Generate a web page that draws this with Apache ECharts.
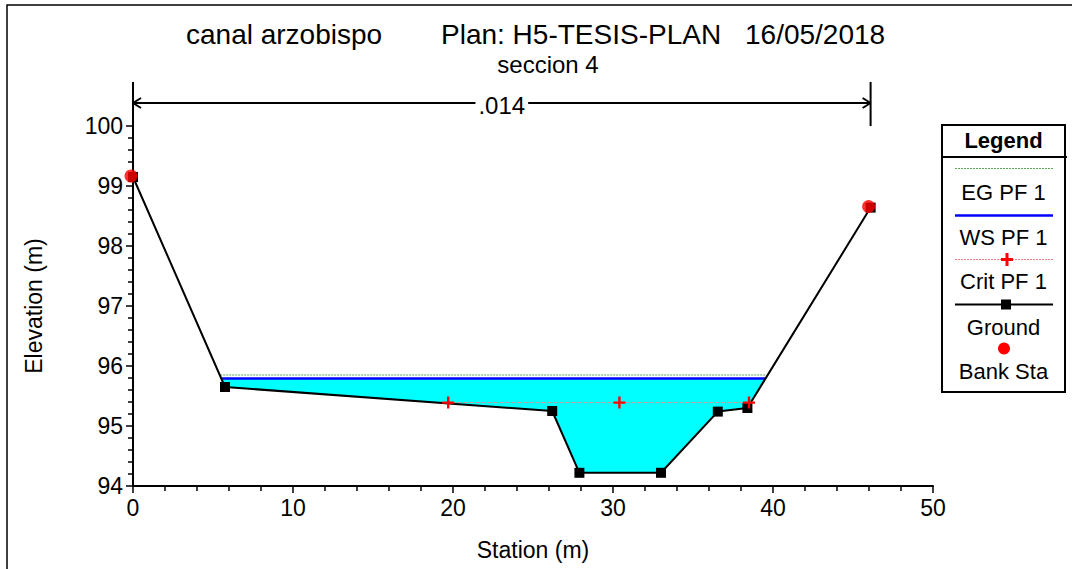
<!DOCTYPE html>
<html>
<head>
<meta charset="utf-8">
<title>canal arzobispo - seccion 4</title>
<script src="https://cdn.jsdelivr.net/npm/echarts@6/dist/echarts.min.js"></script>
<style>
  html, body { margin: 0; padding: 0; background: #ffffff; }
  #chart { width: 1072px; height: 569px; }
</style>
</head>
<body>
<div id="chart"></div>
<script>
// Cross-section geometry (station in m, elevation in m)
const groundStations = [0, 5.75, 26.2, 27.9, 33.0, 36.55, 38.4, 46.1];
const groundElev     = [99.15, 95.65, 95.25, 94.22, 94.22, 95.24, 95.30, 98.64];

// Bank stations
const bankStations = [0, 46.1];
const bankElev     = [99.15, 98.64];

// Profile PF 1 results
const egElev = 95.85;             // energy grade
const egLimits = [5.45, 39.57];
const wsElev = 95.79;             // water surface
const wsLimits = [5.52, 39.53];
const critElev = 95.39;           // critical depth
const critStations = [19.7, 30.4, 38.5];

// Manning's n over the section
const nValue = '.014';
const nLimits = [0, 46.1];

// Axis ticks
const xTicks = { min: 0, max: 50, interval: 10 };
const yTicks = { min: 94, max: 100, interval: 1 };

const FONT = '"Liberation Sans", Arial, sans-serif';

const chart = echarts.init(document.getElementById('chart'), null, { renderer: 'svg' });

const groundData = groundStations.map((s, i) => [s, groundElev[i]]);
const bankData = bankStations.map((s, i) => [s, bankElev[i]]);

// Wetted polygon: water surface on top, ground profile below it
function renderWater(params, api) {
  const pts = [api.coord([wsLimits[0], wsElev])];
  groundStations.forEach((s, i) => {
    if (s > wsLimits[0] && s < wsLimits[1]) pts.push(api.coord([s, groundElev[i]]));
  });
  pts.push(api.coord([wsLimits[1], wsElev]));
  return {
    type: 'polygon',
    shape: { points: pts },
    style: { fill: '#00ffff', stroke: null }
  };
}

// n-value bracket above the plot
function renderBracket(params, api) {
  const a = api.coord([nLimits[0], yTicks.max]);
  const b = api.coord([nLimits[1], yTicks.max]);
  const top = a[1] - 44, yArrow = a[1] - 23, ah = 8;
  const ls = { stroke: '#000', lineWidth: 2 };
  const line = (x1, y1, x2, y2) => ({ type: 'line', shape: { x1, y1, x2, y2 }, style: ls });
  return {
    type: 'group',
    children: [
      line(a[0], top, a[0], a[1]),
      line(b[0], top, b[0], a[1]),
      line(a[0], yArrow, b[0], yArrow),
      line(a[0], yArrow, a[0] + ah, yArrow - 5),
      line(a[0], yArrow, a[0] + ah, yArrow + 5),
      line(b[0], yArrow, b[0] - ah, yArrow - 5),
      line(b[0], yArrow, b[0] - ah, yArrow + 5),
      {
        type: 'text',
        x: (a[0] + b[0]) / 2, y: yArrow + 2,
        style: {
          text: nValue, font: '24px ' + FONT, fill: '#000',
          align: 'center', verticalAlign: 'middle',
          backgroundColor: '#fff', padding: [0, 3]
        }
      }
    ]
  };
}

// Legend box drawn at the right of the plot
const LX = 942, LW = 123, LCX = LX + LW / 2;
const legendText = (t, y, bold) => ({
  type: 'text', x: LCX, y: y,
  style: { text: t, font: (bold ? 'bold ' : '') + '22px ' + FONT, fill: '#000', align: 'center', verticalAlign: 'middle' }
});
const legendLine = (y, color, width, dash) => ({
  type: 'line', shape: { x1: 955, y1: y, x2: 1053, y2: y },
  style: { stroke: color, lineWidth: width, lineDash: dash || null }
});
const legendGraphics = [
  { type: 'rect', shape: { x: LX, y: 125, width: LW, height: 267 }, style: { fill: '#fff', stroke: '#000', lineWidth: 2 } },
  { type: 'line', shape: { x1: LX, y1: 157, x2: LX + LW + 2, y2: 157 }, style: { stroke: '#000', lineWidth: 2 } },
  legendText('Legend', 140, true),
  legendLine(168.5, '#58a858', 1, [2, 1]),
  legendText('EG PF 1', 192),
  legendLine(215.5, '#0000ff', 2.5),
  legendText('WS PF 1', 237),
  legendLine(259.5, '#e88080', 1, [2, 1]),
  { type: 'polygon', shape: { points: [[1005.5,253],[1008.5,253],[1008.5,258],[1013,258],[1013,261],[1008.5,261],[1008.5,266],[1005.5,266],[1005.5,261],[1001,261],[1001,258],[1005.5,258]] }, style: { fill: '#ff0000' } },
  legendText('Crit PF 1', 281),
  legendLine(304.5, '#000', 2),
  { type: 'rect', shape: { x: 1001, y: 299.5, width: 10, height: 10 }, style: { fill: '#000' } },
  legendText('Ground', 327),
  { type: 'circle', shape: { cx: 1004, cy: 348.5, r: 6 }, style: { fill: '#ff0000' } },
  legendText('Bank Sta', 371.5)
];

const crossPath = 'path://M4,0h2v4h4v2h-4v4h-2v-4h-4v-2h4z';

const axisCommon = {
  nameLocation: 'middle',
  nameTextStyle: { fontSize: 23, color: '#000', fontFamily: FONT },
  axisLine: { lineStyle: { color: '#000', width: 2 } },
  axisTick: { length: 7, lineStyle: { color: '#000', width: 1.5 } },
  minorTick: { show: true, splitNumber: 5, length: 5, lineStyle: { color: '#000', width: 1.5 } },
  splitLine: { show: false },
  axisLabel: { fontSize: 23, color: '#000', margin: 10, fontFamily: FONT }
};

const option = {
  backgroundColor: '#ffffff',
  animation: false,
  textStyle: { fontFamily: FONT },
  grid: { left: 133, right: 139, top: 126, bottom: 83, containLabel: false },
  xAxis: Object.assign({
    type: 'value',
    min: xTicks.min, max: xTicks.max, interval: xTicks.interval,
    name: 'Station (m)', nameGap: 52
  }, axisCommon),
  yAxis: Object.assign({
    type: 'value',
    min: yTicks.min, max: yTicks.max, interval: yTicks.interval,
    name: 'Elevation (m)', nameGap: 88, nameRotate: 90
  }, axisCommon),
  graphic: [
    { type: 'rect', shape: { x: 7, y: 5, width: 1100, height: 600 }, style: { fill: null, stroke: '#000', lineWidth: 1.5 }, silent: true },
    { type: 'text', x: 186, y: 34, style: { text: 'canal arzobispo', font: '28px ' + FONT, fill: '#000', verticalAlign: 'middle' } },
    { type: 'text', x: 441, y: 34, style: { text: 'Plan: H5-TESIS-PLAN', font: '28px ' + FONT, fill: '#000', verticalAlign: 'middle' } },
    { type: 'text', x: 745, y: 34, style: { text: '16/05/2018', font: '28px ' + FONT, fill: '#000', verticalAlign: 'middle' } },
    { type: 'text', x: 548, y: 64, style: { text: 'seccion 4', font: '24px ' + FONT, fill: '#000', align: 'center', verticalAlign: 'middle' } }
  ].concat(legendGraphics),
  series: [
    {
      name: 'Water', type: 'custom', z: 1, silent: true,
      data: [[wsLimits[0], wsElev]],
      renderItem: renderWater
    },
    {
      name: 'EG PF 1', type: 'line', z: 3, symbol: 'none',
      data: egLimits.map(s => [s, egElev]),
      lineStyle: { color: '#58a858', width: 1, type: [2, 1] }
    },
    {
      name: 'WS PF 1', type: 'line', z: 3, symbol: 'none',
      data: wsLimits.map(s => [s, wsElev]),
      lineStyle: { color: '#0000ff', width: 2.5 }
    },
    {
      name: 'Crit PF 1', type: 'line', z: 5,
      data: critStations.map(s => [s, critElev]),
      symbol: crossPath, symbolSize: 12,
      itemStyle: { color: '#ff0000' },
      lineStyle: { color: '#e08a8a', width: 1, type: [2, 1] }
    },
    {
      name: 'Ground', type: 'line', z: 4,
      data: groundData,
      symbol: 'rect', symbolSize: 10,
      itemStyle: { color: '#000' },
      lineStyle: { color: '#000', width: 2 }
    },
    {
      name: 'Bank Sta', type: 'scatter', z: 6,
      data: bankData,
      symbol: 'circle', symbolSize: 13, symbolOffset: [-2, -1],
      itemStyle: { color: '#ff0000' }
    },
    {
      name: 'n value', type: 'custom', z: 6, silent: true,
      data: [[nLimits[0], yTicks.max]],
      renderItem: renderBracket
    }
  ]
};

chart.setOption(option);
</script>
</body>
</html>
